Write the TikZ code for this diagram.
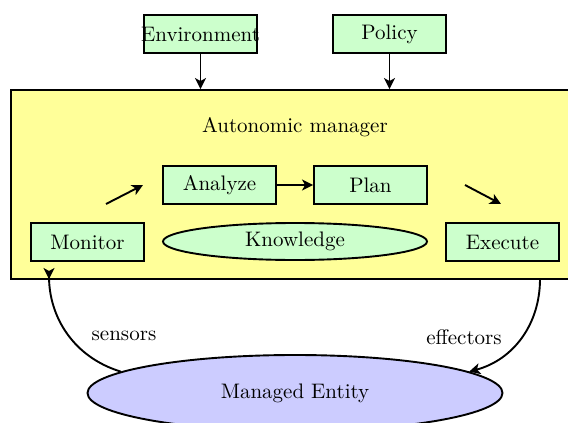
\documentclass[tikz,border=0pt]{standalone}
\usetikzlibrary{arrows.meta,shapes.geometric}
\definecolor{boxgreen}{RGB}{204,255,204}
\definecolor{mgryellow}{RGB}{255,255,153}
\definecolor{entblue}{RGB}{204,204,255}
\begin{document}
\begin{tikzpicture}[x=0.5pt,y=-0.5pt,
  every node/.append style={font=\fontsize{10.5}{12.6}\selectfont},
  lw/.style={line width=0.95pt},
  greenbox/.style={draw, lw, fill=boxgreen, rectangle, inner sep=0pt,
    minimum width=56.5pt, minimum height=19pt},
  greenoval/.style={draw, lw, fill=boxgreen, ellipse, inner sep=0pt,
    minimum width=132pt, minimum height=18.5pt},
  mgrbox/.style={draw, lw, fill=mgryellow, rectangle, inner sep=0pt,
    minimum width=284pt, minimum height=94.5pt},
  entoval/.style={draw, lw, fill=entblue, ellipse, inner sep=0pt,
    minimum width=207.5pt, minimum height=38pt},
  arr/.style={lw, -{Stealth[length=5.5pt,width=5.5pt,inset=1.5pt]}},
  revarr/.style={lw, -{Stealth[length=5.5pt,width=5.5pt,inset=1.5pt,reversed]}},
  plain/.style={inner sep=0pt}]
\useasboundingbox (0,0) rectangle (568,423);
\clip (0,0) rectangle (568,423);
% nodes
\node[mgrbox] (mgr) at (295,184.5) {};
\node[plain] (title) at (295,127) {Autonomic manager};
\node[greenbox] (env) at (200.5,34) {\makebox[56.5pt]{Environment}};
\node[greenbox] (pol) at (389.5,34) {Policy};
\node[greenbox] (ana) at (219.5,185) {Analyze};
\node[greenbox] (plan) at (370.5,185) {Plan};
\node[greenbox] (mon) at (87.5,242) {Monitor};
\node[greenoval] (know) at (295,241.5) {Knowledge};
\node[greenbox] (exe) at (502.5,242) {Execute};
\node[entoval] (ent) at (295,393) {Managed Entity};
\node[plain] (senslbl) at (124,336) {sensors};
\node[plain] (efflbl) at (464,337) {effectors};
% free ends
\coordinate (m1) at (106,204);
\coordinate (m2) at (143,185);
\coordinate (e1) at (465,185);
\coordinate (e2) at (501,204);
\coordinate (sensTip) at (49,268);
\coordinate (effStart) at (540,279);
% connectors
\draw[arr] (env) -- (env |- mgr.north);
\draw[arr] (pol) -- (pol |- mgr.north);
\draw[arr] (ana) -- (plan);
\draw[arr] (m1) -- (m2);
\draw[arr] (e1) -- (e2);
\draw[revarr] (ent.173) to[out=163, in=-90] (sensTip);
\draw[arr] (effStart) to[out=-90, in=15] (ent.7);
\end{tikzpicture}
\end{document}
